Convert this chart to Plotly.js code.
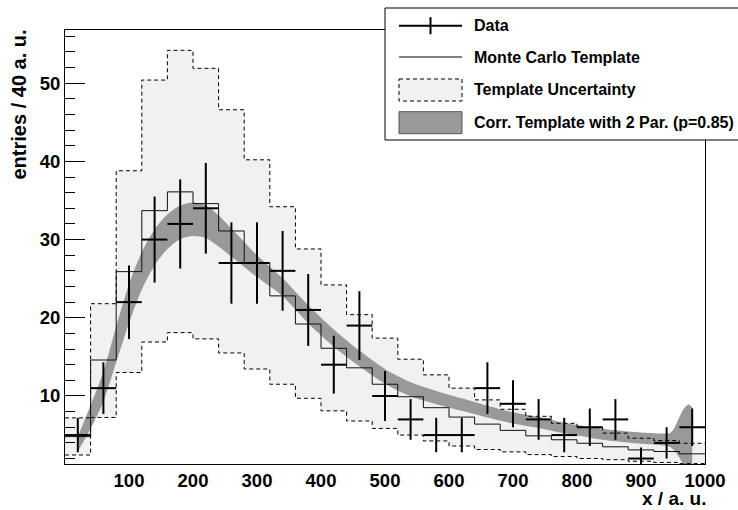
<!DOCTYPE html>
<html>
<head>
<meta charset="utf-8">
<script src="https://cdn.plot.ly/plotly-3.0.1.min.js"></script>
<style>html,body{margin:0;padding:0;background:#fff;}#chart{width:738px;height:510px;}</style>
</head>
<body>
<div id="chart"></div>
<script>
// ---------- data ----------
const binEdges   = [0,40,80,120,160,200,240,280,320,360,400,440,480,520,560,600,640,680,720,760,800,840,880,920,960,1000];
const binCenters = [20,60,100,140,180,220,260,300,340,380,420,460,500,540,580,620,660,700,740,780,820,860,900,940,980];
const binHalfWidth = 20;

const dataCounts = [5,11,22,30,32,34,27,27,26,21,14,19,10,7,5,5,11,9,7,5,6,7,2,4,6];
const dataErrors = [2.2,3.3,4.7,5.5,5.7,5.8,5.2,5.2,5.1,4.6,3.7,4.4,3.2,2.6,2.2,2.2,3.3,3.0,2.6,2.2,2.4,2.6,1.4,2.0,2.4];

const mcTemplate = [4.8,14.6,25.9,33.7,36.1,34.6,31.1,27.0,22.8,19.2,16.1,13.6,11.5,9.9,8.5,7.3,6.4,5.6,4.9,4.4,3.95,3.5,3.1,2.9,2.6];
const mcUpper    = [7.2,21.8,38.8,50.4,54.2,51.9,46.6,40.2,34.2,28.8,24.2,20.4,17.4,14.7,12.7,11.0,9.5,8.3,7.4,6.5,6.0,5.25,4.6,4.3,3.95];
const mcLower    = [2.45,7.25,13.0,16.9,18.1,17.3,15.5,13.45,11.5,9.7,8.1,6.8,5.85,5.0,4.25,3.6,3.15,2.85,2.5,2.25,2.0,1.85,1.65,1.5,1.35];

const bandX     = [20,40,60,80,100,120,140,160,180,200,220,240,260,280,300,340,380,420,460,500,540,580,620,660,700,740,780,820,860,900,930,945,952,960,968,975,980];
const bandUpper = [4.8,8.8,13.1,18.9,24.3,28.4,31.3,33.2,34.35,34.75,34.4,33.1,31.4,29.7,28.0,25.05,21.6,18.5,15.8,13.45,11.75,10.65,9.7,8.75,7.92,7.3,6.58,6.03,5.6,5.32,5.2,5.25,5.9,7.3,8.5,8.9,8.5];
const bandLower = [2.9,5.8,9.3,14.3,19.3,23.6,26.7,28.8,30.05,30.45,30.2,29.1,27.8,26.5,25.2,22.75,19.3,16.3,13.8,11.55,9.95,8.95,8.1,7.25,6.48,5.9,5.22,4.67,4.2,3.88,3.7,3.5,3.0,2.1,1.0,0.0,-0.6];

const xTickVals = [100,200,300,400,500,600,700,800,900,1000];
const xTickText = ["100","200","300","400","500","600","700","800","900","1000"];
const yTickVals = [10,20,30,40,50];
const yTickText = ["10","20","30","40","50"];

const legendLabels = ["Data","Monte Carlo Template","Template Uncertainty","Corr. Template with 2 Par. (p=0.85)"];
const xTitle = "x / a. u.";
const yTitle = "entries / 40 a. u.";

// ---------- layout helpers ----------
const W = 738, H = 510;
const PL = 65, PR = 705, PT = 30, PB = 464;
const px2x = p => (p - PL) / (PR - PL);
const px2y = p => (PB - p) / (PB - PT);
const FONT = "Liberation Sans, Arial, Helvetica, sans-serif";
const step = v => v.concat([v[v.length - 1]]);

const traces = [
  {x: binEdges, y: step(mcLower), mode: "lines", line: {shape: "hv", width: 0, color: "rgba(0,0,0,0)"}, hoverinfo: "skip", showlegend: false},
  {x: binEdges, y: step(mcUpper), mode: "lines", fill: "tonexty", fillcolor: "#f1f1f1", line: {shape: "hv", width: 0, color: "rgba(0,0,0,0)"}, hoverinfo: "skip", showlegend: false},
  {x: bandX, y: bandLower, mode: "lines", line: {shape: "spline", smoothing: 0.8, width: 0, color: "rgba(0,0,0,0)"}, hoverinfo: "skip", showlegend: false},
  {x: bandX, y: bandUpper, mode: "lines", fill: "tonexty", fillcolor: "#999999", line: {shape: "spline", smoothing: 0.8, width: 0, color: "rgba(0,0,0,0)"}, hoverinfo: "skip", showlegend: false},
  {x: binEdges, y: step(mcLower), mode: "lines", line: {shape: "hv", width: 1, color: "#000", dash: "4px,3px"}, hoverinfo: "skip", showlegend: false},
  {x: binEdges, y: step(mcUpper), mode: "lines", line: {shape: "hv", width: 1, color: "#000", dash: "4px,3px"}, hoverinfo: "skip", showlegend: false},
  {x: binEdges, y: step(mcTemplate), mode: "lines", line: {shape: "hv", width: 1, color: "#111"}, hoverinfo: "skip", showlegend: false},
  {x: binCenters, y: dataCounts, mode: "markers", marker: {size: 2, color: "#000"},
   error_y: {type: "data", array: dataErrors, visible: true, thickness: 2, width: 0, color: "#000"},
   error_x: {type: "constant", value: binHalfWidth, visible: true, thickness: 2, width: 0, color: "#000"},
   showlegend: false}
];

// manual legend (ROOT style box)
const rowY = [25.7, 57, 90, 122.7];
const symX0 = 399, symX1 = 462;
const shapes = [
  {type: "rect", xref: "paper", yref: "paper", x0: px2x(385), x1: px2x(770), y0: px2y(8), y1: px2y(140), fillcolor: "#fff", line: {color: "#000", width: 1}, layer: "above"},
  {type: "line", xref: "paper", yref: "paper", x0: px2x(symX0), x1: px2x(symX1), y0: px2y(rowY[0]), y1: px2y(rowY[0]), line: {color: "#000", width: 2}, layer: "above"},
  {type: "line", xref: "paper", yref: "paper", x0: px2x(430.5), x1: px2x(430.5), y0: px2y(rowY[0] - 8.5), y1: px2y(rowY[0] + 8.5), line: {color: "#000", width: 2}, layer: "above"},
  {type: "line", xref: "paper", yref: "paper", x0: px2x(symX0), x1: px2x(symX1), y0: px2y(rowY[1]), y1: px2y(rowY[1]), line: {color: "#000", width: 1}, layer: "above"},
  {type: "rect", xref: "paper", yref: "paper", x0: px2x(symX0), x1: px2x(symX1), y0: px2y(rowY[2] - 11), y1: px2y(rowY[2] + 11), fillcolor: "#f1f1f1", line: {color: "#000", width: 1, dash: "4px,3px"}, layer: "above"},
  {type: "rect", xref: "paper", yref: "paper", x0: px2x(symX0), x1: px2x(symX1), y0: px2y(rowY[3] - 11), y1: px2y(rowY[3] + 11), fillcolor: "#999999", line: {color: "#555", width: 1}, layer: "above"}
];

const annotations = legendLabels.map((t, i) => ({
  text: t, xref: "paper", yref: "paper", x: px2x(472), y: px2y(rowY[i]),
  xanchor: "left", yanchor: "middle", showarrow: false,
  font: {family: FONT, size: 16, color: "#000", weight: "bold"}
}));
annotations.push({text: xTitle, xref: "paper", yref: "paper", x: px2x(707), y: px2y(499),
  xanchor: "right", yanchor: "middle", showarrow: false, borderpad: 0, font: {family: FONT, size: 19, color: "#000", weight: "bold"}});
annotations.push({text: yTitle, xref: "paper", yref: "paper", x: px2x(18.5), y: px2y(28),
  xanchor: "center", yanchor: "top", textangle: -90, showarrow: false, font: {family: FONT, size: 20, color: "#000", weight: "bold"}});

const layout = {
  width: W, height: H,
  margin: {l: PL, r: W - PR, t: PT, b: H - PB, pad: 0},
  paper_bgcolor: "#fff", plot_bgcolor: "#fff",
  font: {family: FONT, size: 19, color: "#000", weight: "bold"},
  showlegend: false,
  xaxis: {range: [0, 1000], showgrid: false, zeroline: false, showline: true, mirror: true, linecolor: "#000", linewidth: 1,
          ticks: "", tickvals: xTickVals, ticktext: xTickText, tickfont: {family: FONT, size: 18.5, color: "#000", weight: "bold"}},
  yaxis: {range: [1.3, 56.8], showgrid: false, zeroline: false, showline: true, mirror: true, linecolor: "#000", linewidth: 1,
          ticks: "inside", ticklen: 20, tickwidth: 1, tickcolor: "#000", tickvals: yTickVals, ticktext: yTickText,
          minor: {ticks: "inside", ticklen: 10, tickwidth: 1, tickcolor: "#000", dtick: 2, tick0: 0},
          tickfont: {family: FONT, size: 18.5, color: "#000", weight: "bold"}},
  shapes: shapes,
  annotations: annotations
};

Plotly.newPlot("chart", traces, layout, {displayModeBar: false, staticPlot: true});
</script>
</body>
</html>
